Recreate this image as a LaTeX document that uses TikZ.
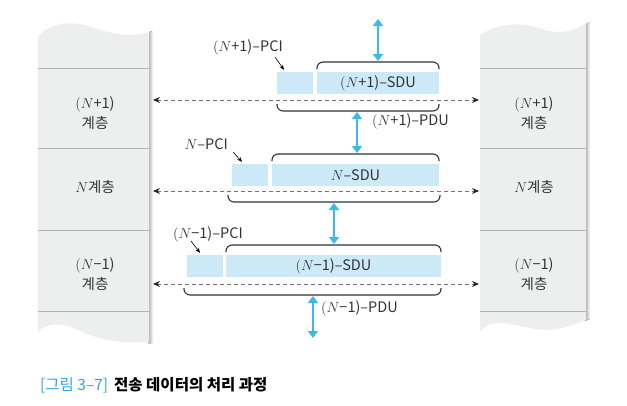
\documentclass[tikz,border=0pt]{standalone}
\usepackage{fontspec}
\setmainfont{Noto Sans CJK KR}
\usetikzlibrary{arrows.meta}
\definecolor{colfill}{HTML}{EDEEEE}
\definecolor{colline}{HTML}{B4B4B4}
\definecolor{pboxc}{HTML}{CCE9F8}
\definecolor{barrow}{HTML}{3DB8EA}
\definecolor{capblue}{HTML}{2CA6DC}
\definecolor{txt}{HTML}{333333}
\tikzset{
  pcibox/.style={fill=pboxc, draw=none, minimum width=36pt, minimum height=22pt, inner sep=0pt},
  sdubox/.style={fill=pboxc, draw=none, minimum height=22pt, inner sep=0pt, font=\fontsize{14.5}{16}\selectfont, text=txt},
  lbl/.style={font=\fontsize{14.5}{16}\selectfont, text=txt, inner sep=1pt},
  layerlbl/.style={font=\fontsize{14.5}{20.5}\selectfont, text=txt, align=center, inner sep=0pt},
  brace/.style={draw=txt, line width=1.1pt, rounded corners=6pt},
  dasharrow/.style={draw=black!55, line width=1pt, dash pattern=on 4pt off 3pt, {Stealth[length=7pt,width=6pt,black!85]}-{Stealth[length=7pt,width=6pt,black!85]}},
  bluearrow/.style={draw=barrow, line width=2.8pt, {Triangle[length=7pt,width=10pt]}-{Triangle[length=7pt,width=10pt]}},
  ptr/.style={draw=black, line width=0.6pt, -{Stealth[length=5pt,width=4pt]}},
  sepline/.style={draw=colline, line width=0.8pt}
}
\begin{document}
\begin{tikzpicture}[x=1pt,y=-1pt]
\useasboundingbox (0,0) rectangle (627,405);
% left column
\begin{scope}
\clip (38,36) .. controls (50,24) and (68,20) .. (88,26) .. controls (112,34) and (130,38) .. (153,31)
  -- (153,343) .. controls (120,345) and (100,340) .. (80,331) .. controls (62,322) and (48,322) .. (38,332) -- cycle;
\fill[left color=black!35, right color=white] (148,20) rectangle (153,350);
\end{scope}
\fill[colfill] (38,36) .. controls (50,24) and (68,20) .. (88,26) .. controls (112,34) and (130,38) .. (149,32)
  -- (149,342) .. controls (120,344) and (100,340) .. (80,331) .. controls (62,322) and (48,322) .. (38,332) -- cycle;
\foreach \yy in {68,148,230,311} \draw[sepline] (38,\yy) -- (149,\yy);
% right column
\begin{scope}
\clip (480,35) .. controls (500,22) and (522,22) .. (542,29) .. controls (560,35) and (575,31) .. (590,22)
  -- (590,319) .. controls (570,326) and (555,332) .. (535,329) .. controls (515,326) and (495,316) .. (480,331) -- cycle;
\fill[left color=black!35, right color=white] (585,15) rectangle (590,340);
\end{scope}
\fill[colfill] (480,35) .. controls (500,22) and (522,22) .. (542,29) .. controls (560,35) and (575,31) .. (586,23)
  -- (586,320) .. controls (570,326) and (555,332) .. (535,329) .. controls (515,326) and (495,316) .. (480,331) -- cycle;
\foreach \yy in {68,148,230,311} \draw[sepline] (480,\yy) -- (586,\yy);
% layer labels
\node[layerlbl] (ll1) at (95,113) {$(N$+1)\\계층};
\node[layerlbl] (ll2) at (95,187) {$N$계층};
\node[layerlbl] (ll3) at (95,274) {$(N$−1)\\계층};
\node[layerlbl] (rl1) at (534,113) {$(N$+1)\\계층};
\node[layerlbl] (rl2) at (534,187) {$N$계층};
\node[layerlbl] (rl3) at (534,274) {$(N$−1)\\계층};
% dashed peer arrows
\coordinate (L1) at (153,100); \coordinate (R1) at (479,100);
\coordinate (L2) at (153,191); \coordinate (R2) at (479,191);
\coordinate (L3) at (153,284); \coordinate (R3) at (479,284);
\draw[dasharrow] (L1) -- (R1);
\draw[dasharrow] (L2) -- (R2);
\draw[dasharrow] (L3) -- (R3);
% boxes
\node[pcibox] (pci1) at (295,83) {};
\node[sdubox, minimum width=122pt] (sdu1) at (378,83) {$(N$+1)–SDU};
\node[pcibox] (pci2) at (250,175) {};
\node[sdubox, minimum width=167pt] (sdu2) at (355.5,175) {$N$–SDU};
\node[pcibox] (pci3) at (205,266) {};
\node[sdubox, minimum width=215pt] (sdu3) at (333.5,266) {$(N$−1)–SDU};
% braces
\draw[brace] (317,69) -- (317,62) -- (439,62) -- (439,69);
\draw[brace] (277,104) -- (277,111) -- (439,111) -- (439,104);
\draw[brace] (272,161) -- (272,154) -- (439,154) -- (439,161);
\draw[brace] (228,195) -- (228,202) -- (440,202) -- (440,195);
\draw[brace] (226,252) -- (226,245) -- (441,245) -- (441,252);
\draw[brace] (184,288) -- (184,295) -- (441,295) -- (441,288);
% blue arrows
\coordinate (b1t) at (378,19); \coordinate (b1b) at (378,61);
\coordinate (b2t) at (357,112); \coordinate (b2b) at (357,153);
\coordinate (b3t) at (334,203); \coordinate (b3b) at (334,244);
\coordinate (b4t) at (313,296); \coordinate (b4b) at (313,338);
\draw[bluearrow] (b1t) -- (b1b);
\draw[bluearrow] (b2t) -- (b2b);
\draw[bluearrow] (b3t) -- (b3b);
\draw[bluearrow] (b4t) -- (b4b);
% PCI labels
\node[lbl, anchor=east] (lp1) at (284,47) {$(N$+1)–PCI};
\node[lbl, anchor=east] (lp2) at (229,144) {$N$–PCI};
\node[lbl, anchor=east] (lp3) at (244,234) {$(N$−1)–PCI};
\coordinate (sp1) at (275,57); \coordinate (sp2) at (233,152); \coordinate (sp3) at (191,241);
\draw[ptr] (sp1) -- ([xshift=-11pt,yshift=2pt]pci1.north);
\draw[ptr] (sp2) -- ([xshift=-8pt,yshift=2pt]pci2.north);
\draw[ptr] (sp3) -- ([xshift=-5pt,yshift=2pt]pci3.north);
% PDU labels
\node[lbl, anchor=west] (lpdu1) at (371,121) {$(N$+1)–PDU};
\node[lbl, anchor=west] (lpdu3) at (320,308) {$(N$−1)–PDU};
% caption
\node[anchor=west, inner sep=0pt, font=\fontsize{15.5}{17}\selectfont] (cap) at (40,385)
  {\textcolor{capblue}{[그림 3–7]}\hspace{6pt}\textbf{전송 데이터의 처리 과정}};
\end{tikzpicture}
\end{document}
